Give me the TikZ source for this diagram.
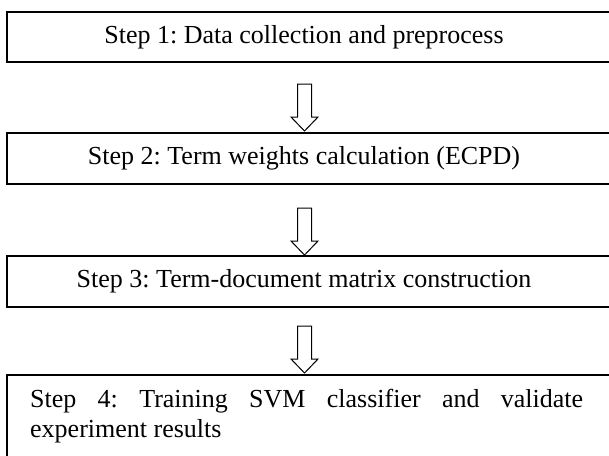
\documentclass[tikz,border=0pt]{standalone}
\usepackage{fontspec}
\setmainfont{Liberation Serif}
\newfontfamily\stepfont{Liberation Serif}
\newcommand\stepfontsetup{\stepfont\fontsize{26}{30}\selectfont\frenchspacing
  \hyphenpenalty=10000\relax\exhyphenpenalty=10000\relax}
\begin{document}
\begin{tikzpicture}[x=1pt,y=-1pt,
  stepbox/.style={draw=black,line width=1.4pt,fill=none,inner sep=0pt},
  steptext/.style={inner sep=0pt,font=\stepfontsetup},
  hollow/.style={draw=black,line width=1pt,fill=white,line join=miter}]
  \useasboundingbox (0,0) rectangle (609,455);
  \clip (0,0) rectangle (609,455);

  % the four step frames (they run past the right and lower edges)
  \draw[stepbox] (7,12) rectangle (622,62) node[pos=0,coordinate] (b1) {};
  \draw[stepbox] (7,133) rectangle (622,184) node[pos=0,coordinate] (b2) {};
  \draw[stepbox] (7,256) rectangle (622,307) node[pos=0,coordinate] (b3) {};
  \draw[stepbox] (7,375) rectangle (622,470) node[pos=0,coordinate] (b4) {};

  % step labels
  \node[steptext] (t1) at (304,37) {Step 1: Data collection and preprocess};
  \node[steptext] (t2) at (304,158.5) {Step 2: Term weights calculation (ECPD)};
  \node[steptext] (t3) at (304,281.5) {Step 3: Term-document matrix construction};
  \node[steptext,anchor=north west,text width=553pt,align=justify] (t4) at (30,389)
    {Step 4: Training SVM classifier and validate experiment results};

  % hollow arrows between the steps
  \coordinate (a1) at (304.5,84);
  \coordinate (a2) at (304.5,208);
  \coordinate (a3) at (304.5,326);
  \foreach \a in {a1,a2,a3}{
    \draw[hollow] (\a) ++(-7,0) -- ++(0,33) -- ++(-6.5,0) -- ++(13.5,14)
      -- ++(13.5,-14) -- ++(-6.5,0) -- ++(0,-33) -- cycle;
  }
\end{tikzpicture}
\end{document}
